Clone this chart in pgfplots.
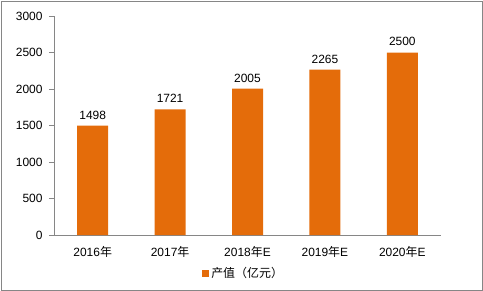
\documentclass[border=0pt]{standalone}
\usepackage{fontspec}
\setmainfont{Liberation Sans}
\newfontfamily\cjk{Noto Sans CJK SC}
\usepackage{pgfplots}
\pgfplotsset{compat=1.18}
\definecolor{barorange}{HTML}{E46C0A}
\definecolor{axgray}{HTML}{868686}
\begin{document}
\begin{tikzpicture}
\useasboundingbox (0,0) rectangle (483bp,-291bp);
\draw[axgray, line width=0.8bp] (1bp,-1bp) rectangle (482bp,-290bp);
\begin{axis}[
  at={(54bp,-235bp)}, anchor=south west,
  scale only axis, width=387bp, height=219bp,
  xmin=-0.5, xmax=4.5, ymin=0, ymax=3000,
  ytick={0,500,...,3000},
  xtick={0,1,2,3,4},
  xticklabels={2016{\cjk 年},2017{\cjk 年},2018{\cjk 年}E,2019{\cjk 年}E,2020{\cjk 年}E},
  x tick style={draw=none},
  extra x ticks={-0.5,0.5,1.5,2.5,3.5,4.5},
  extra x tick labels={},
  extra x tick style={tick style={draw=axgray, line width=0.8bp}, major tick length=5bp, tick align=outside},
  y tick style={draw=axgray, line width=0.8bp},
  major tick length=5bp, tick align=outside,
  axis x line*=bottom, axis y line*=left,
  axis line style={draw=axgray, line width=0.8bp, -},
  ticklabel style={font=\fontsize{12}{14}\selectfont, text=black},
  /pgf/number format/assume math mode=true,
  /pgf/number format/1000 sep={},
  xticklabel style={yshift=-3bp},
  yticklabel style={xshift=-3bp},
  ybar, bar width=31bp,
  nodes near coords,
  every node near coord/.append style={font=\fontsize{12}{14}\selectfont, text=black, yshift=3bp},
  legend style={at={(0.49,-0.175)}, anchor=center, draw=none, fill=none,
    font=\fontsize{12}{14}\selectfont, inner sep=0pt},
  legend image code/.code={\fill[barorange] (0bp,-3.5bp) rectangle (7bp,3.5bp);},
  clip=false,
]
\addplot[fill=barorange, draw=none] coordinates {(0,1498) (1,1721) (2,2005) (3,2265) (4,2500)};
\addlegendentry{{\cjk 产值（亿元）}}
\end{axis}
\end{tikzpicture}
\end{document}
